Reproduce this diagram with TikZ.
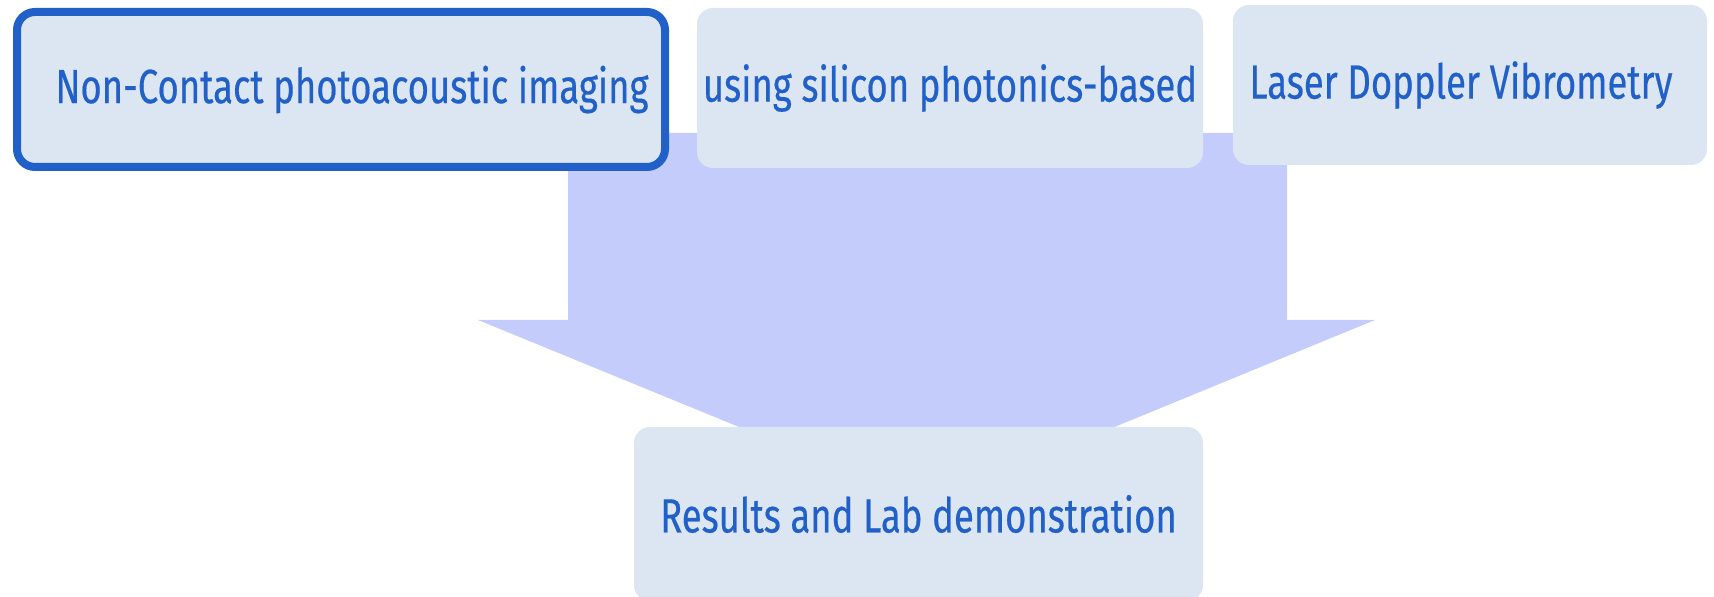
\documentclass[tikz,border=0pt]{standalone}
\usepackage{fontspec}
\setmainfont{Fira Sans}[FakeStretch=0.76,FakeBold=0.4]
\definecolor{boxfill}{HTML}{DCE6F2}
\definecolor{arrowfill}{HTML}{C4CCFC}
\definecolor{txtblue}{HTML}{2060C8}
\begin{document}
\begin{tikzpicture}[x=0.5pt,y=-0.5pt,
  box/.style={rectangle, rounded corners=8pt, fill=boxfill, text=txtblue,
    font=\fontsize{24}{28}\selectfont, inner sep=0pt, align=center},
  hot/.style={draw=txtblue, line width=4pt, rounded corners=9pt}]
\useasboundingbox (0,0) rectangle (1714,597);
\begin{scope}
\clip (0,0) rectangle (1714,597);
% big arrow
\fill[arrowfill] (568,133) -- (1287,133) -- (1287,320) -- (1375,320) -- (927,504)
  -- (478,320) -- (568,320) -- cycle;
\node[box, hot, minimum width=324pt, minimum height=77.5pt] (b1) at (341,89.5) {\hspace*{11pt}Non-Contact photoacoustic imaging};
\node[box, minimum width=253pt, minimum height=80pt] (b2) at (950,88) {using silicon photonics-based};
\node[box, minimum width=237pt, minimum height=80pt] (b3) at (1470,85) {Laser Doppler Vibrometry\hspace*{9pt}};
\node[box, minimum width=284.5pt, minimum height=87pt] (b4) at (918.5,514) {Results and Lab demonstration};
\end{scope}
\end{tikzpicture}
\end{document}
